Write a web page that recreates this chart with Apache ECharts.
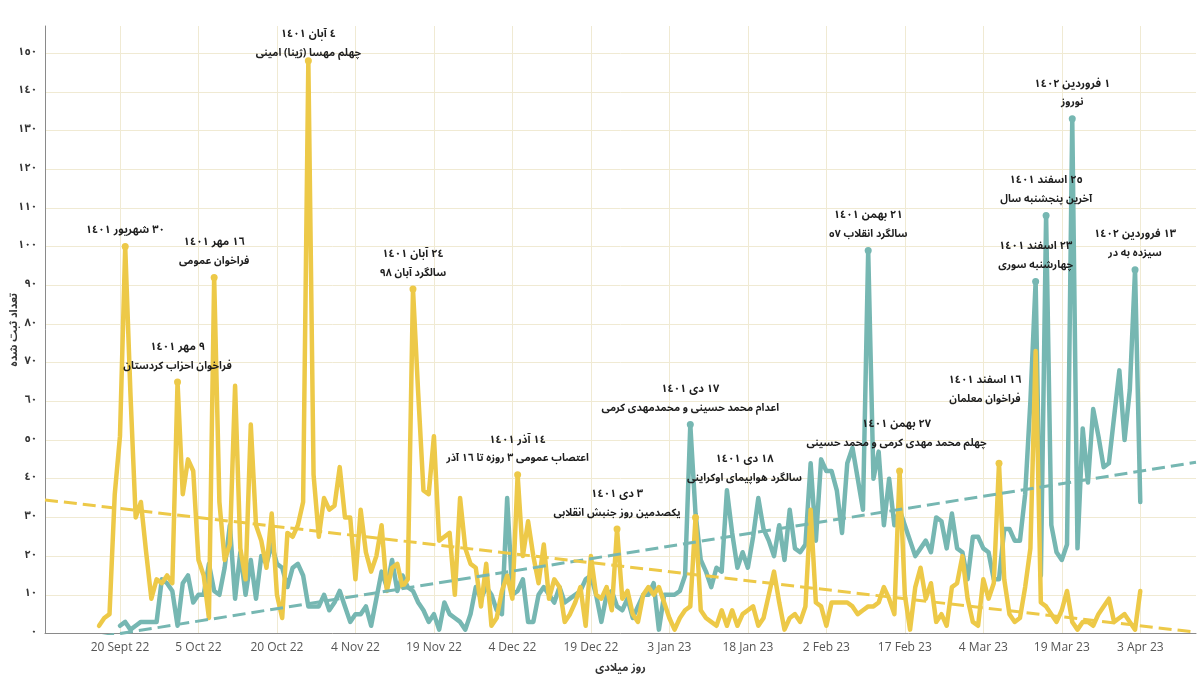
<!DOCTYPE html>
<html>
<head>
<meta charset="utf-8">
<script src="https://cdn.jsdelivr.net/npm/echarts@6/dist/echarts.min.js"></script>
<style>
  html, body { margin: 0; padding: 0; background: #fff; }
  #main { width: 1200px; height: 686px; }
</style>
</head>
<body>
<div id="main"></div>
<script>
// day numbers count from 20 Sept 22 (day 0)
var yellowFirstDay = -4; // 16 Sept 22
var yellowValues = [
  2, 4, 5, 36,
  51, 100, 62, 30, 34, 21, 9, 14, 13, 15,
  13, 65, 36, 45, 42, 19, 15, 4, 92, 34,
  19, 23, 64, 22, 14, 54, 28, 24, 17, 31,
  10, 4, 26, 25, 28, 34, 148, 41, 25, 35,
  32, 33, 43, 30, 30, 14, 32, 21, 16, 20,
  28, 11, 17, 18, 12, 14, 89, 62, 37, 36,
  51, 24, 25, 26, 10, 35, 22, 18, 17, 7,
  18, 2, 4, 11, 15, 9, 41, 20, 29, 20,
  13, 23, 9, 14, 12, 3, 5, 8, 12, 2,
  20, 10, 9, 12, 6, 27, 9, 11, 5, 3,
  10, 12, 10, 12, 8, 4, 1, 4, 6, 7,
  30, 6, 4, 3, 2, 6, 2, 6, 2, 5,
  6, 7, 2, 4, 10, 16, 8, 1, 4, 5,
  3, 7, 32, 8, 7, 2, 8, 8, 8, 8,
  7, 5, 6, 7, 7, 8, 12, 9, 5, 42,
  10, 1, 12, 17, 9, 13, 3, 5, 2, 12,
  13, 20, 9, 3, 2, 14, 9, 13, 44, 14,
  5, 3, 4, 12, 22, 73, 8, 7, 5, 3,
  6, 11, 3, 1, 3, 3, 2, 5, 7, 9,
  3, 4, 5, 3, 1, 11
];
var tealFirstDay = 0; // 20 Sept 22
var tealValues = [
  2, 3, 1, 2, 3, 3, 3, 3, 14, 13,
  11, 2, 13, 15, 8, 10, 10, 18, 11, 10,
  17, 28, 9, 21, 10, 19, 9, 20, 18, 23,
  18, 17, 12, 17, 18, 15, 7, 7, 7, 10,
  6, 8, 11, 7, 3, 5, 5, 7, 2, 9,
  16, 12, 19, 11, 15, 12, 11, 8, 6, 3,
  5, 1, 8, 5, 4, 3, 1, 5, 12, 9,
  12, 10, 6, 5, 35, 10, 11, 14, 3, 3,
  10, 12, 10, 8, 12, 8, 9, 10, 11, 14,
  15, 10, 3, 10, 11, 7, 6, 9, 4, 7,
  10, 10, 13, 1, 10, 10, 10, 11, 15, 54,
  31, 19, 16, 12, 17, 16, 37, 26, 17, 21,
  17, 25, 35, 27, 24, 20, 28, 19, 32, 22,
  21, 23, 44, 24, 45, 42, 42, 37, 26, 44,
  48, 40, 32, 99, 40, 47, 28, 40, 28, 32,
  28, 24, 20, 22, 24, 21, 30, 29, 22, 31,
  22, 21, 14, 25, 25, 22, 21, 14, 14, 27,
  27, 24, 24, 36, 60, 91, 15, 108, 28, 21,
  19, 23, 133, 22, 53, 39, 58, 51, 43, 44,
  56, 68, 50, 63, 94, 34
];

var tickDays = [0, 15, 30, 45, 60, 75, 90, 105, 120, 135, 150, 165, 180, 195];
var tickLabels = ['20 Sept 22', '5 Oct 22', '20 Oct 22', '4 Nov 22', '19 Nov 22', '4 Dec 22', '19 Dec 22',
  '3 Jan 23', '18 Jan 23', '2 Feb 23', '17 Feb 23', '4 Mar 23', '19 Mar 23', '3 Apr 23'];
var yTicks = [0, 10, 20, 30, 40, 50, 60, 70, 80, 90, 100, 110, 120, 130, 140, 150];

// annotated days
var annDays = [1, 18, 36, 11, 56, 76, 95, 109, 110, 143, 149, 168, 175, 177, 182, 194];
var annSeries = ['y', 'y', 'y', 'y', 'y', 'y', 'y', 't', 'y', 't', 'y', 'y', 't', 't', 't', 't'];
var annDate = ['٣٠ شهریور ١٤٠١', '١٦ مهر ١٤٠١', '٤ آبان ١٤٠١', '٩ مهر ١٤٠١', '٢٤ آبان ١٤٠١', '١٤ آذر ١٤٠١',
  '٣ دی ١٤٠١', '١٧ دی ١٤٠١', '١٨ دی ١٤٠١', '٢١ بهمن ١٤٠١', '٢٧ بهمن ١٤٠١', '١٦ اسفند ١٤٠١',
  '٢٣ اسفند ١٤٠١', '٢٥ اسفند ١٤٠١', '١ فروردین ١٤٠٢', '١٣ فروردین ١٤٠٢'];
var annEvent = ['', 'فراخوان عمومی', 'چهلم مهسا (ژینا) امینی', 'فراخوان احزاب کردستان', 'سالگرد آبان ٩٨',
  'اعتصاب عمومی ٣ روزه تا ١٦ آذر', 'یکصدمین روز جنبش انقلابی', 'اعدام محمد حسینی و محمدمهدی کرمی',
  'سالگرد هواپیمای اوکراینی', 'سالگرد انقلاب ٥٧', 'چهلم محمد مهدی کرمی و محمد حسینی', 'فراخوان معلمان',
  'چهارشنبه سوری', 'آخرین پنجشنبه سال', 'نوروز', 'سیزده به در'];
// label nudges (px) where the text does not sit straight above its point
var annShift = [[0, 0], [0, 0], [0, 9], [0, 0], [0, 0], [0, 0], [0, 0], [0, 0], [49, -23], [0, 0],
  [-3, -12], [-14, -48], [0, 0], [0, 0], [0, 0], [0, 0]];

var YELLOW = '#EDC948';
var TEAL = '#76B7B2';
var xMin = -14.33, xMax = 205.65;
var FA_FONT = "'Noto Sans Arabic', 'Noto Naskh Arabic', 'DejaVu Sans', sans-serif";

function toArabicDigits(n) {
  return String(n).replace(/[0-9]/g, function (c) { return String.fromCharCode(0x0660 + (+c)); });
}

function toPairs(values, first) {
  return values.map(function (v, i) { return [first + i, v]; });
}

function trendLine(values, first) { // least squares fit
  var n = values.length, sx = 0, sy = 0, sxx = 0, sxy = 0;
  for (var i = 0; i < n; i++) {
    var x = first + i, y = values[i];
    sx += x; sy += y; sxx += x * x; sxy += x * y;
  }
  var b = (n * sxy - sx * sy) / (n * sxx - sx * sx);
  var a = (sy - b * sx) / n;
  return [[xMin, a + b * xMin], [xMax, a + b * xMax]];
}

function valueAt(key, day) {
  return key === 'y' ? yellowValues[day - yellowFirstDay] : tealValues[day - tealFirstDay];
}

function marks(key) {
  var res = [];
  for (var i = 0; i < annDays.length; i++) {
    if (annSeries[i] !== key) continue;
    var txt = '{a|' + annDate[i] + '}';
    if (annEvent[i]) txt += '\n{b|' + annEvent[i] + '}';
    res.push({
      coord: [annDays[i], valueAt(key, annDays[i])],
      label: { formatter: txt, offset: annShift[i] }
    });
  }
  return res;
}

var labelRich = {
  a: { fontFamily: FA_FONT, fontWeight: 'bold', fontSize: 11, lineHeight: 19, color: '#1e1e1e' },
  b: { fontFamily: FA_FONT, fontWeight: 'bold', fontSize: 10.5, lineHeight: 19, color: '#1e1e1e' }
};

function markPointFor(key, color) {
  return {
    symbol: 'circle',
    symbolSize: 7,
    itemStyle: { color: color },
    label: { show: true, position: 'top', distance: 2, rich: labelRich },
    data: marks(key),
    z: 10
  };
}

var chart = echarts.init(document.getElementById('main'));
var option = {
  animation: false,
  grid: { left: 45, right: 4, top: 26, bottom: 52.5, containLabel: false, outerBoundsMode: 'none' },
  xAxis: {
    type: 'value',
    min: xMin,
    max: xMax,
    axisLine: { show: true, onZero: false, lineStyle: { color: '#8a8a8a' } },
    axisTick: { show: false, customValues: tickDays },
    axisLabel: {
      customValues: tickDays,
      formatter: function (v) {
        var k = tickDays.indexOf(Math.round(v));
        return k >= 0 ? tickLabels[k] : '';
      },
      color: '#555',
      fontFamily: 'Open Sans',
      fontSize: 12,
      margin: 8
    },
    splitLine: { show: true, lineStyle: { color: '#f0ead3', width: 1 } },
    name: 'روز میلادی',
    nameLocation: 'middle',
    nameGap: 30,
    nameMoveOverlap: false,
    nameTextStyle: { fontFamily: FA_FONT, fontWeight: 'bold', fontSize: 11, color: '#333' }
  },
  yAxis: {
    type: 'value',
    min: 0,
    max: 157,
    axisLine: { show: true, onZero: false, lineStyle: { color: '#8a8a8a' } },
    axisTick: { show: false, customValues: yTicks },
    axisLabel: {
      customValues: yTicks,
      formatter: function (v) { return toArabicDigits(v); },
      fontFamily: FA_FONT,
      fontWeight: 'bold',
      fontSize: 11,
      color: '#333',
      margin: 8
    },
    splitLine: { show: true, lineStyle: { color: '#f0ead3', width: 1 } },
    name: 'تعداد ثبت شده',
    nameLocation: 'middle',
    nameRotate: 90,
    nameGap: 24,
    nameMoveOverlap: false,
    nameTextStyle: { fontFamily: FA_FONT, fontWeight: 'bold', fontSize: 11, color: '#333' }
  },
  series: [
    {
      type: 'line',
      data: toPairs(tealValues, tealFirstDay),
      showSymbol: false,
      lineStyle: { color: TEAL, width: 4.5, cap: 'round', join: 'round' },
      itemStyle: { color: TEAL },
      markPoint: markPointFor('t', TEAL),
      z: 2
    },
    {
      type: 'line',
      data: toPairs(yellowValues, yellowFirstDay),
      showSymbol: false,
      lineStyle: { color: YELLOW, width: 4.5, cap: 'round', join: 'round' },
      itemStyle: { color: YELLOW },
      markPoint: markPointFor('y', YELLOW),
      z: 3
    },
    {
      type: 'line',
      data: trendLine(tealValues, tealFirstDay),
      showSymbol: false,
      silent: true,
      lineStyle: { color: TEAL, width: 3, type: [13, 6] },
      z: 4
    },
    {
      type: 'line',
      data: trendLine(yellowValues, yellowFirstDay),
      showSymbol: false,
      silent: true,
      lineStyle: { color: YELLOW, width: 3, type: [13, 6] },
      z: 4
    }
  ]
};
chart.setOption(option);
</script>
</body>
</html>
